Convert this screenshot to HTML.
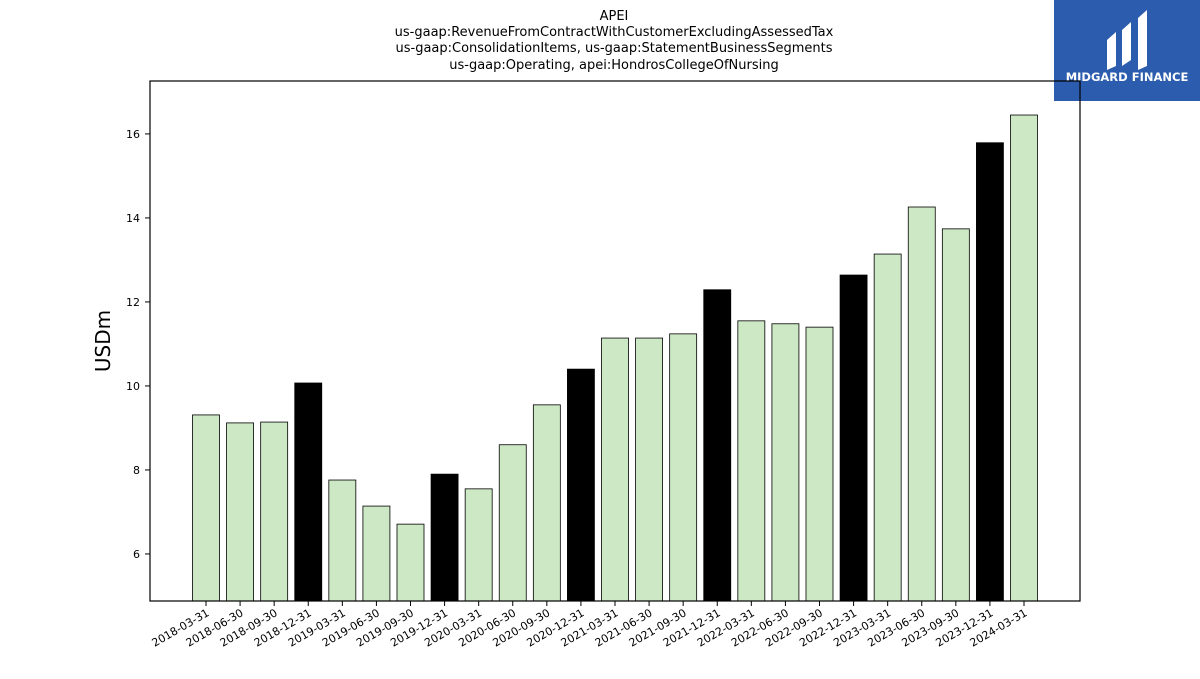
<!DOCTYPE html>
<html><head><meta charset="utf-8"><style>
body{margin:0;background:#fff;width:1200px;height:675px;overflow:hidden;font-family:"DejaVu Sans","Liberation Sans",sans-serif;}
</style></head><body>
<svg id="chart" width="1200" height="675" xmlns="http://www.w3.org/2000/svg" font-family="DejaVu Sans, Liberation Sans, sans-serif">
<g font-size="13" text-anchor="middle" fill="#000">
<text x="614" y="20">APEI</text>
<text x="614" y="36">us-gaap:RevenueFromContractWithCustomerExcludingAssessedTax</text>
<text x="614" y="52">us-gaap:ConsolidationItems, us-gaap:StatementBusinessSegments</text>
<text x="614" y="69">us-gaap:Operating, apei:HondrosCollegeOfNursing</text>
</g>
<g>
<rect x="1054" y="0" width="146" height="101" fill="#2b5cad"/>
<path d="M1107 40 L1116 32 L1116 66 L1107 70 Z M1122 30 L1131 22 L1131 60 L1122 66 Z M1138 18 L1147 10 L1147 66 L1138 70 Z" fill="#fff"/>
<text x="1127" y="81" font-size="11.5" font-weight="bold" fill="#fff" text-anchor="middle">MIDGARD FINANCE</text>
</g>
<text x="110" y="341" font-size="20" text-anchor="middle" transform="rotate(-90 110 341)">USDm</text>
<g id="bars"></g><g id="yticks"></g><g id="xticks"></g>
<rect x="150" y="81" width="930" height="520" fill="none" stroke="#000" stroke-width="1.2"/>
</svg>
<script>
const categories=["2018-03-31","2018-06-30","2018-09-30","2018-12-31","2019-03-31","2019-06-30","2019-09-30","2019-12-31","2020-03-31","2020-06-30","2020-09-30","2020-12-31","2021-03-31","2021-06-30","2021-09-30","2021-12-31","2022-03-31","2022-06-30","2022-09-30","2022-12-31","2023-03-31","2023-06-30","2023-09-30","2023-12-31","2024-03-31"];
const values=[9.31,9.12,9.14,10.07,7.76,7.14,6.71,7.90,7.55,8.60,9.55,10.40,11.14,11.14,11.24,12.29,11.55,11.48,11.40,12.64,13.14,14.26,13.74,15.79,16.45];
const yTickValues=[6,8,10,12,14,16];
const NS="http://www.w3.org/2000/svg";
const yMin=4.88,yMax=17.26,plotTop=81,plotBot=601;
function yScale(v){return plotBot-(v-yMin)/(yMax-yMin)*(plotBot-plotTop);}
function xScale(i){return 206+i*(1024-206)/(categories.length-1);}
const bars=document.getElementById('bars'),yt=document.getElementById('yticks'),xt=document.getElementById('xticks');
categories.forEach((c,i)=>{
 const r=document.createElementNS(NS,'rect');
 
 
 const q=c.endsWith('12-31');
 r.setAttribute('x',xScale(i)-13.5);r.setAttribute('width',27);
 r.setAttribute('y',yScale(values[i]));r.setAttribute('height',plotBot-yScale(values[i]));
 r.setAttribute('fill',q?'#000':'#cde8c5');r.setAttribute('stroke','#000');r.setAttribute('stroke-width','0.8');
 bars.appendChild(r);
 const l=document.createElementNS(NS,'line');
 
 
 l.setAttribute('x1',xScale(i));l.setAttribute('x2',xScale(i));l.setAttribute('y1',plotBot);l.setAttribute('y2',plotBot+5);l.setAttribute('stroke','#000');
 xt.appendChild(l);
 const t=document.createElementNS(NS,'text');
 
 
 t.setAttribute('font-size','11');t.setAttribute('text-anchor','end');
 t.setAttribute('transform','translate('+(xScale(i)+4)+','+(plotBot+14)+') rotate(-30)');
 t.textContent=c;xt.appendChild(t);
});
yTickValues.forEach(v=>{
 const l=document.createElementNS(NS,'line');
 
 
 l.setAttribute('x1',145);l.setAttribute('x2',150);l.setAttribute('y1',yScale(v));l.setAttribute('y2',yScale(v));l.setAttribute('stroke','#000');
 yt.appendChild(l);
 const t=document.createElementNS(NS,'text');
 
 
 t.setAttribute('font-size','11');t.setAttribute('text-anchor','end');
 t.setAttribute('x',140);t.setAttribute('y',yScale(v)+4);t.textContent=v;yt.appendChild(t);
});
</script>
</body></html>
